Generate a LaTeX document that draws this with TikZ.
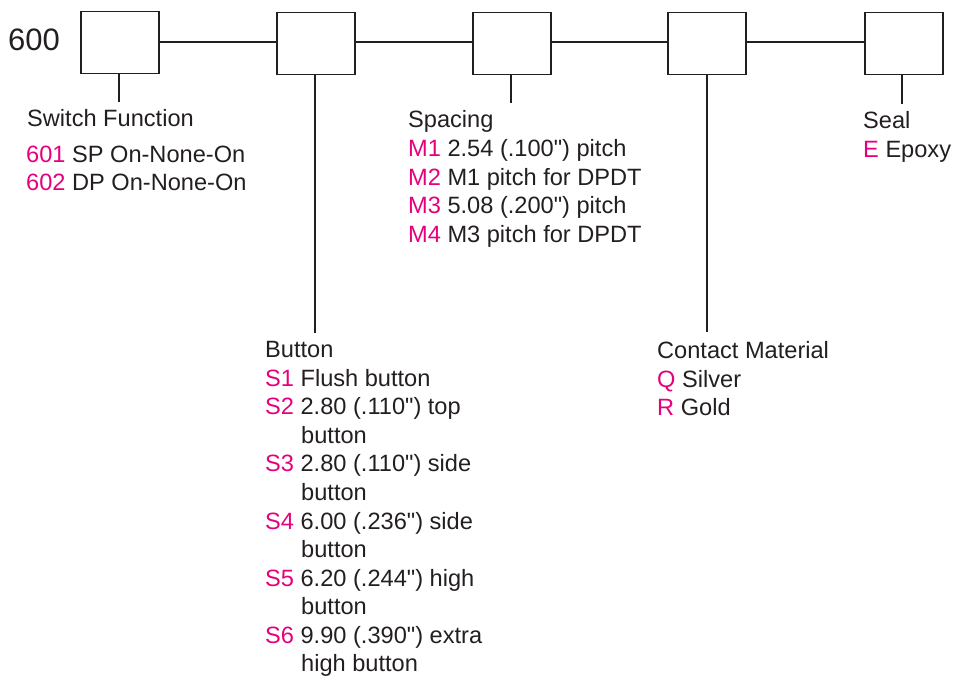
\documentclass[tikz,border=0pt]{standalone}
\usepackage{fontspec}
\setmainfont{Liberation Sans}[Ligatures=TeXOff]
\definecolor{ink}{HTML}{231F20}
\definecolor{code}{HTML}{E6007E}
\newcommand{\qq}{\symbol{34}}
\begin{document}
\begin{tikzpicture}[x=1pt,y=-1pt,
  box/.style={draw=ink,line width=1.8pt,minimum width=78pt,minimum height=62pt,inner sep=0pt,anchor=north west},
  wire/.style={draw=ink,line width=1.8pt},
  lbl/.style={anchor=base west,inner sep=0pt,text=ink,font=\fontsize{23.6}{28}\selectfont},
  big/.style={anchor=base west,inner sep=0pt,text=ink,font=\fontsize{31}{34}\selectfont}]
\useasboundingbox (0,0) rectangle (954,680);
\node[box] (b1) at (80,10.5) {};
\node[box] (b2) at (276,11.5) {};
\node[box] (b3) at (472,11.5) {};
\node[box] (b4) at (667,11.5) {};
\node[box] (b5) at (864,11.5) {};
\node[big] (n600) at (8,50) {600};
\draw[wire] (b1.east |- 0,42) -- (b2.west |- 0,42);
\draw[wire] (b2.east |- 0,42) -- (b3.west |- 0,42);
\draw[wire] (b3.east |- 0,42) -- (b4.west |- 0,42);
\draw[wire] (b4.east |- 0,42) -- (b5.west |- 0,42);
\coordinate (e1) at (119,102);
\coordinate (e2) at (315,333);
\coordinate (e3) at (511,103);
\coordinate (e4) at (707,332);
\coordinate (e5) at (902,104);
\draw[wire] (b1.south -| e1) -- (e1);
\draw[wire] (b2.south -| e2) -- (e2);
\draw[wire] (b3.south -| e3) -- (e3);
\draw[wire] (b4.south -| e4) -- (e4);
\draw[wire] (b5.south -| e5) -- (e5);
% Switch function
\node[lbl] (sf) at (27,126) {Switch Function};
\node[lbl] (sf1) at (26,162) {\textcolor{code}{601} SP On-None-On};
\node[lbl] (sf2) at (26,190) {\textcolor{code}{602} DP On-None-On};
% Spacing
\node[lbl] (sp) at (408,127) {Spacing};
\node[lbl] (sp1) at (408,156.5) {\textcolor{code}{M1} 2.54 (.100\qq) pitch};
\node[lbl] (sp2) at (408,185) {\textcolor{code}{M2} M1 pitch for DPDT};
\node[lbl] (sp3) at (408,213.5) {\textcolor{code}{M3} 5.08 (.200\qq) pitch};
\node[lbl] (sp4) at (408,242) {\textcolor{code}{M4} M3 pitch for DPDT};
% Button
\node[lbl] (bt) at (265,357) {Button};
\node[lbl] (bt1) at (265,386) {\textcolor{code}{S1} Flush button};
\node[lbl] (bt2) at (265,414.5) {\textcolor{code}{S2} 2.80 (.110\qq) top};
\node[lbl] (bt2b) at (301,443) {button};
\node[lbl] (bt3) at (265,471.5) {\textcolor{code}{S3} 2.80 (.110\qq) side};
\node[lbl] (bt3b) at (301,500) {button};
\node[lbl] (bt4) at (265,529) {\textcolor{code}{S4} 6.00 (.236\qq) side};
\node[lbl] (bt4b) at (301,557.5) {button};
\node[lbl] (bt5) at (265,586) {\textcolor{code}{S5} 6.20 (.244\qq) high};
\node[lbl] (bt5b) at (301,614.5) {button};
\node[lbl] (bt6) at (265,643) {\textcolor{code}{S6} 9.90 (.390\qq) extra};
\node[lbl] (bt6b) at (301,671.5) {high button};
% Contact material
\node[lbl] (cm) at (657,358) {Contact Material};
\node[lbl] (cm1) at (657,387) {\textcolor{code}{Q} Silver};
\node[lbl] (cm2) at (657,415) {\textcolor{code}{R} Gold};
% Seal
\node[lbl] (se) at (863,128) {Seal};
\node[lbl] (se1) at (863,157) {\textcolor{code}{E} Epoxy};
\end{tikzpicture}
\end{document}
